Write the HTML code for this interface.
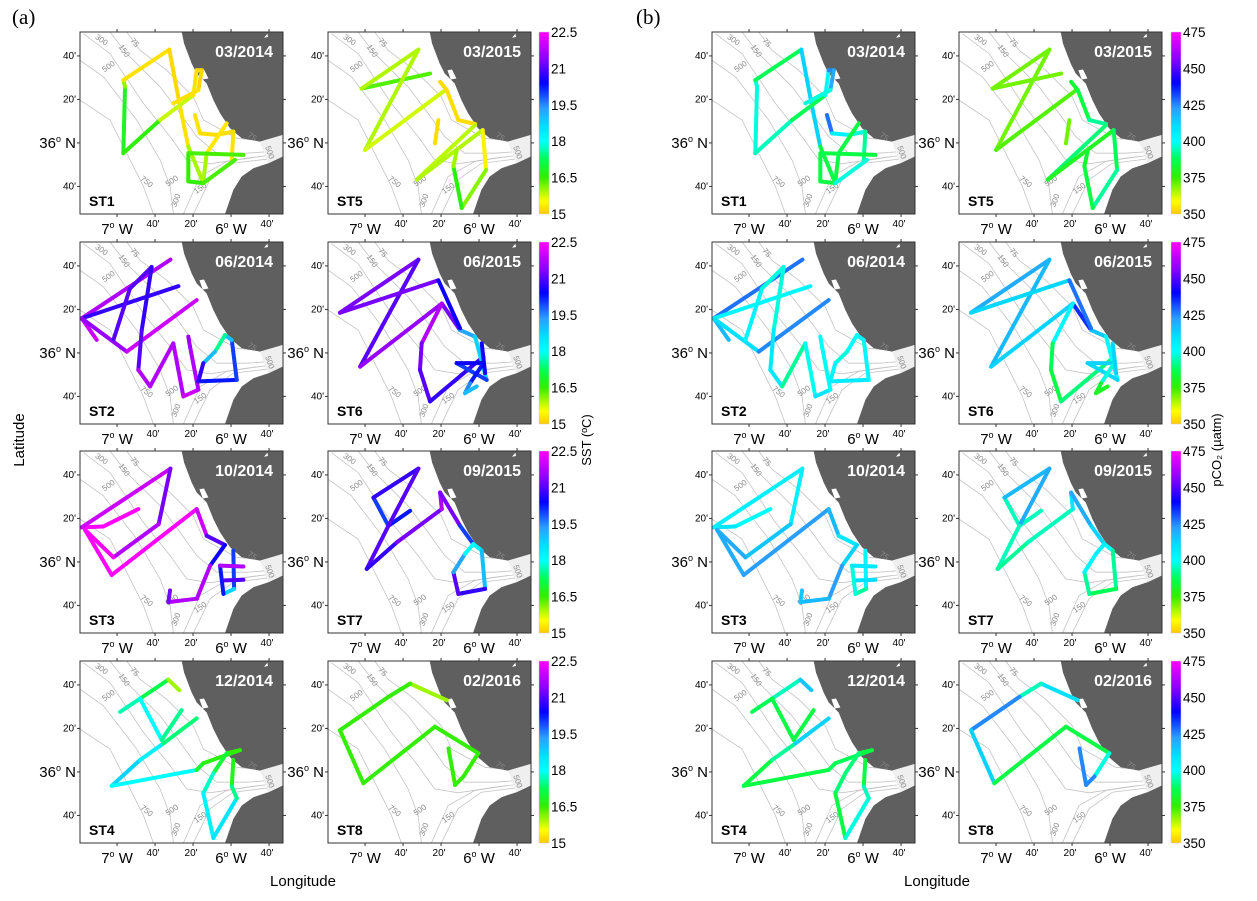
<!DOCTYPE html>
<html><head><meta charset="utf-8"><style>
html,body{margin:0;padding:0;background:#fff;}
svg{display:block;font-family:"Liberation Sans",Arial,sans-serif;}
</style></head><body>
<svg id="fig" width="1257" height="901" viewBox="0 0 1257 901" xmlns="http://www.w3.org/2000/svg">
<text x="12" y="24" font-family="Liberation Serif" font-size="21">(a)</text>
<text x="636" y="24" font-family="Liberation Serif" font-size="21">(b)</text>
<text transform="translate(24,440) rotate(-90)" text-anchor="middle" font-size="15">Latitude</text>
<text x="303" y="886" text-anchor="middle" font-size="15">Longitude</text>
<text x="937" y="886" text-anchor="middle" font-size="15">Longitude</text>
<text transform="translate(591,440) rotate(-90)" text-anchor="middle" font-size="13">SST (ºC)</text>
<text transform="translate(1221,450) rotate(-90)" text-anchor="middle" font-size="13">pCO₂ (µatm)</text>
<g id="panels"></g>
</svg>
<script>
// ---------- data (minutes east of 7°W, minutes north of 36°N) ----------
const stations = ["ST1","ST2","ST3","ST4","ST5","ST6","ST7","ST8"];
const dates = ["03/2014","06/2014","10/2014","12/2014","03/2015","06/2015","09/2015","02/2016"];
const lonTicks = [0,20,40,60,80];
const lonTickLabels = ["7","40'","20'","6","40'"];
const latTicks = [40,20,0,-20];
const latTickLabels = ["40'","20'","36","40'"];
const sstTicks = [22.5,21,19.5,18,16.5,15];
const pco2Ticks = [475,450,425,400,375,350];

const st1Pts = [
 [[3.3,-4.7],[4.2,25.8],[3.3,28.9],[27.5,42.9],[33.2,16.6],[37.5,-1.7],[45.4,-18.5]],
 [[3.3,-4.7],[22.6,10.5],[40.2,22],[41.9,33.4],[44.6,33.4],[42.8,24.3],[29.6,18.2]],
 [[41,12.8],[43.7,4.4],[52.5,3.7],[61.2,5.2],[60.4,-7.8]],
 [[57.7,9],[47.2,-4.7],[45.4,-17.7]],
 [[37.5,-4.7],[66.5,-5.5]],
 [[37.5,-5.5],[37.5,-17.7],[45.4,-18.5],[62.1,-7.8]]];
const st1Sst = [[16.8,16.8,15.3,15.2,15.1,15.4,16.5],[16.8,16.3,15.3,15.2,15.1,15.2,15.3],[15.3,15.2,15.2,15.2,15.3],[15.2,15.4,16.5],[16.5,16.3],[16.5,16.5,16.5,16.3]];
const st1Pco2 = [[390,405,390,385,440,385,385],[400,390,385,420,430,410,385],[445,410,400,395,390],[385,385,385],[385,385],[385,385,385,410]];

const st2Pts = [
 [[-18.6,15.9],[28.1,42.9]],
 [[-18.6,15.9],[32.3,30.7]],
 [[-18.6,15.9],[-10.7,6]],
 [[-18.6,15.9],[5.1,0.6],[41.9,24.3]],
 [[-1.9,6],[6.8,29.6],[18.2,39.5]],
 [[18.2,39.5],[13,10.5],[11.2,-7.8],[17.4,-15.4],[29.6,4.4],[34.9,-20],[42.8,-16.9],[38.4,2.9],[37.5,7.5]],
 [[42.8,-13.1],[63,-12.4],[60.4,5.9],[56.8,8.2],[51.6,0.6],[45.4,-4.7],[42.8,-13.1]]];
const st2Sst = [[21.5,22],[21,20.5],[22,22],[21.5,21.5,22.5],[21.5,20.5,21.5],[21,20.5,21.5,22,21.5,22,22,21.5,21.5],[21,19.5,20.5,17.5,17.5,20.5,21]];
const st2Pco2 = [[415,440],[415,390],[415,420],[410,410,440],[408,400,395],[400,395,420,395,390,408,408,395,405],[408,405,400,405,395,400,408]];

const st3Pts = [
 [[11.2,24.3],[-7.2,16.3],[-18.6,15.9],[28.1,42.9],[21.9,17.4],[-1.9,2.1],[-16.8,14.7],[-2.8,-6],[41.9,24.3],[47.2,12],[56.8,7.8]],
 [[56.8,7.8],[49,-1.7],[42,-16.9],[27,-18.5],[27.9,-13.1]],
 [[61.2,5.2],[61.6,-12.4],[56,-14.7],[54.2,-1.7],[66.5,-2.1]],
 [[56.8,-8.5],[66.5,-8.2]]];
const st3Sst = [[22.5,22.5,22.5,21.5,21,22.5,22.5,22.5,22.5,21.5,20.5],[20,21,22.5,21,21.5],[21,19,18.5,22,21.5],[21,21]];
const st3Pco2 = [[395,405,410,400,410,420,420,420,425,410,405],[405,420,425,410,420],[405,400,385,410,405],[410,410]];

const st4Pts = [
 [[1.6,27.6],[12.1,33.7],[27,42.4],[32.8,37.6]],
 [[12.1,33.7],[23.5,14.7],[34,28.4]],
 [[-2.8,-6.4],[12.1,5.5],[24.4,13.1],[41.9,24.6]],
 [[-2.8,-6.4],[41.9,0.9],[45.4,4],[64.7,10],[57.7,8.6],[50.7,-0.6],[45.4,-9.8],[50.7,-30.4],[63,-12.1]],
 [[61.2,5.5],[60.4,-6.7],[63,-12.1]]];
const st4Sst = [[17.5,17.8,16.5,15.5],[18,18,17],[19,18.5,18,16.8],[19,17,16.8,16.5,16.5,17.5,18,18.5,18.5],[16.5,17,18]];
const st4Pco2 = [[385,390,400,430],[385,385,385],[385,385,400,425],[385,385,390,385,385,395,385,385,410],[385,385,405]];

const st5Pts = [
 [[34.2,31.9],[-1.8,25],[28.1,42.9],[0,-3.2],[42.1,24.2]],
 [[39.5,28.1],[43,24.3],[49.1,10.5],[57.9,8.7]],
 [[38.6,10.5],[36.8,-0.2]],
 [[57.9,8.2],[27.2,-16.9],[61.9,5.9],[63.7,-12.4],[50.9,-29.9],[46.5,-10.7],[48.2,-3.8]]];
const st5Sst = [[16.5,16.2,15.6,16.2,15.3],[15.2,15.2,15.2,15.2],[15.2,15.2],[15.2,16.5,15.3,15.5,16.7,16.5,15.5]];
const st5Pco2 = [[365,375,365,375,370],[380,385,385,400],[375,365],[395,385,375,400,385,385,380]];

const st6Pts = [
 [[-13.2,18.5],[28.1,42.9],[-2.6,-6.3],[40.4,22.7],[50,10.5],[57.9,7.5]],
 [[-13.2,18.5],[38.6,33.4],[50,11.3]],
 [[40.4,22.7],[29.8,4.4],[28.9,-7.8],[34.2,-22.3],[62.3,-1.7]],
 [[57.9,7.5],[64,-12.4],[48.2,-4.7],[62.3,-4.7],[55.3,-13.9],[52.6,-18.5],[58.8,-15.4]],
 [[61.4,4.4],[63.2,-9.3]]];
const st6Sst = [[21.5,21,21,22,20.5,18],[22,20.5,20.5],[22,21.5,21,21,20.5],[18,19.5,20.5,20.5,20,19,19],[20.5,20.5]];
const st6Pco2 = [[400,440,395,430,440,390],[408,415,440],[415,390,385,385,395],[395,408,415,410,385,380,380],[415,410]];

const st7Pts = [
 [[23.7,23.5],[12.3,16.6],[4.4,29.6],[28.1,42.9],[12.3,16.6],[0.9,-3.2]],
 [[0.9,-3.2],[16.7,9],[40.4,24.3],[39.5,31.9],[50,16.6],[57,8.2],[61.4,5.2],[63.2,-12.4],[49.1,-14.7],[46.5,-4.7],[52.6,3.7],[57,8.2]]];
const st7Sst = [[20.5,20,20,21.5,20.5,21.5],[21,20.5,22,21.5,21,19,17.5,20.5,21,21,17.5,18.5]];
const st7Pco2 = [[395,395,395,440,400,390],[390,395,395,420,420,405,395,390,385,400,405,405]];

const st8Pts = [
 [[43,33],[23.7,40.6],[12.3,34.5],[-13.2,19.2],[-0.9,-5.2],[36.8,20.8],[59.6,8.6],[51.8,-2.1],[47.4,-6],[43.9,10.8]]];
const st8Sst = [[15.5,16.5,16.5,16.5,16.5,16.5,16.5,16.5,16.5,16.5]];
const st8Pco2 = [[440,380,410,440,385,385,385,410,440,410]];

const trackPts = [st1Pts,st2Pts,st3Pts,st4Pts,st5Pts,st6Pts,st7Pts,st8Pts];
const trackSst = [st1Sst,st2Sst,st3Sst,st4Sst,st5Sst,st6Sst,st7Sst,st8Sst];
const trackPco2 = [st1Pco2,st2Pco2,st3Pco2,st4Pco2,st5Pco2,st6Pco2,st7Pco2,st8Pco2];

const landZ = [[365,35],[372,70],[395,130],[410,160],[440,190],[460,240],[480,280],[510,325],[545,355],[600,365],[668,345],[668,35]];
const africaZ = [[668,410],[625,430],[580,445],[545,470],[520,510],[495,583],[668,583]];
const contoursZ = [
 [[200,35],[240,90],[320,150],[400,230],[430,300],[530,355],[600,362]],
 [[150,35],[200,100],[300,200],[360,280],[410,350],[470,400],[560,400],[668,392]],
 [[70,40],[150,100],[250,250],[330,350],[380,420],[450,432],[560,415],[668,402]],
 [[60,120],[130,170],[230,300],[300,420],[330,500],[340,583]],
 [[60,240],[150,300],[200,400],[250,500],[280,583]],
 [[400,583],[450,480],[520,430],[668,412]],
 [[370,583],[420,470],[500,425],[600,410]]];
const contourLabels = [["300",120,65,35],["75",218,72,50],["150",186,96,55],["500",150,145,-35],["750",255,492,40],["500",340,490,-35],["300",355,545,-70],["150",425,512,-35],["75",572,357,35],["500",622,400,70]];

const stops = [[0,"#ffc800"],[0.07,"#ffff00"],[0.2,"#33ee00"],[0.3,"#00ff55"],[0.4,"#00ffff"],[0.48,"#00e0ff"],[0.58,"#2a9fff"],[0.72,"#0000ff"],[0.85,"#8a00ff"],[1,"#ff00ff"]];
function hex(c){return [1,3,5].map(i=>parseInt(c.substr(i,2),16));}
function cmap(t){t=Math.max(0,Math.min(1,t));for(let i=1;i<stops.length;i++){if(t<=stops[i][0]){const a=stops[i-1],b=stops[i];const f=(t-a[0])/(b[0]-a[0]);const ca=hex(a[1]),cb=hex(b[1]);return "rgb("+ca.map((v,k)=>Math.round(v+(cb[k]-v)*f)).join(",")+")";}}return stops[stops.length-1][1];}

const NS="http://www.w3.org/2000/svg";
function mk(tag,attrs,parent){const e=document.createElementNS(NS,tag);for(const k in attrs)e.setAttribute(k,attrs[k]);parent.appendChild(e);return e;}
const W=203,H=182;
function zToM(p){return [(p[0]-171)/5.7,(369-p[1])/6.55];}
const root=document.getElementById("panels");
const cols=[[80,328,539,"sst"],[712,959,1171,"pco2"]];
const rows=[32,242,451,661];

cols.forEach((c,ci)=>{
 rows.forEach((py,ri)=>{
  const cb=mk("g",{},root);
  
  
  const gid="grad"+ci+ri;
  const defs=mk("defs",{},cb);const lg=mk("linearGradient",{id:gid,x1:0,y1:1,x2:0,y2:0},defs);
  stops.forEach(s=>mk("stop",{offset:s[0],"stop-color":s[1]},lg));
  mk("rect",{x:c[2],y:py,width:10,height:H,fill:"url(#"+gid+")",stroke:"#ccc","stroke-width":0.5},cb);
  const ticks=c[3]==="sst"?sstTicks:pco2Ticks;
  ticks.forEach((v,i)=>{const t=mk("text",{x:c[2]+12,y:py+i*H/5+5,"font-size":13.5},cb);t.textContent=String(v);
   
   });
  [0,1].forEach(k=>{
   const px=c[k];const si=k*4+ri;
   const X=m=>px+(m+19.5)*1.9, Y=n=>py+(51-n)*2.175;
   const g=mk("g",{},root);
   
   
   const cid="clip"+ci+ri+k;
   const cd=mk("defs",{},g);const cp=mk("clipPath",{id:cid},cd);mk("rect",{x:px,y:py,width:W,height:H},cp);
   const inner=mk("g",{"clip-path":"url(#"+cid+")"},g);
   mk("rect",{x:px,y:py,width:W,height:H,fill:"#fff"},inner);
   const toPts=arr=>arr.map(p=>{const q=zToM(p);return X(q[0]).toFixed(1)+","+Y(q[1]).toFixed(1);}).join(" ");
   contoursZ.forEach(cz=>{const l=mk("polyline",{points:toPts(cz),fill:"none",stroke:"#c4c4c4","stroke-width":0.8},inner);
    
    });
   const land=mk("polygon",{points:toPts(landZ),fill:"#5f5f5f"},inner);
   
   
   const af=mk("polygon",{points:toPts(africaZ),fill:"#5f5f5f"},inner);
   
   
   mk("polygon",{points:toPts([[600,365],[668,345],[668,410],[625,430]]),fill:"#efefef"},inner);
   mk("polygon",{points:toPts([[612,52],[622,40],[624,50]]),fill:"#fff"},inner);
   mk("polygon",{points:toPts([[418,150],[432,148],[445,175],[428,178]]),fill:"#fff"},inner);
   contourLabels.forEach(cl=>{const q=zToM([cl[1],cl[2]]);const t=mk("text",{x:X(q[0]),y:Y(q[1]),"font-size":8,fill:"#8a8a8a","text-anchor":"middle",transform:"rotate("+cl[3]+" "+X(q[0])+" "+Y(q[1])+")"},inner);t.textContent=cl[0];
    
    });
   const pts=trackPts[si],vals=(c[3]==="sst"?trackSst:trackPco2)[si];
   const norm=c[3]==="sst"?(v=>(v-15)/7.5):(v=>(v-350)/125);
   pts.forEach((seg,sj)=>{for(let i=0;i<seg.length-1;i++){
    const v=(vals[sj][i]+vals[sj][i+1])/2;
    const ln=mk("line",{x1:X(seg[i][0]),y1:Y(seg[i][1]),x2:X(seg[i+1][0]),y2:Y(seg[i+1][1]),stroke:cmap(norm(v)),"stroke-width":4,"stroke-linecap":"round"},inner);
    
    
   }});
   const dt=mk("text",{x:px+W-10,y:py+25,"font-size":16,"font-weight":"bold",fill:"#fff","text-anchor":"end"},g);dt.textContent=dates[si];
   
   
   const st=mk("text",{x:px+9,y:py+H-8,"font-size":14,"font-weight":"bold",fill:"#000"},g);st.textContent=stations[si];
   
   
   mk("rect",{x:px,y:py,width:W,height:H,fill:"none",stroke:"#333","stroke-width":1},g);
   lonTicks.forEach((m,i)=>{
    mk("line",{x1:X(m),y1:py,x2:X(m),y2:py-3,stroke:"#333"},g);
    mk("line",{x1:X(m),y1:py+H,x2:X(m),y2:py+H+3,stroke:"#333"},g);
    const big=(i===0||i===3);
    const t=mk("text",{x:X(m)+(big?0:-2),y:py+H+(big?20:13),"font-size":big?15:10,"text-anchor":"middle"},g);
    
    
    if(big){t.textContent=lonTickLabels[i];const s=mk("tspan",{"font-size":9,dy:-6},t);s.textContent="o";const s2=mk("tspan",{dy:6},t);s2.textContent=" W";}
    else t.textContent=lonTickLabels[i];
   });
   latTicks.forEach((n,i)=>{
    mk("line",{x1:px,y1:Y(n),x2:px-3,y2:Y(n),stroke:"#333"},g);
    mk("line",{x1:px+W,y1:Y(n),x2:px+W+3,y2:Y(n),stroke:"#333"},g);
    const big=(n===0);
    const t=mk("text",{x:px-4,y:Y(n)+(big?5:3),"font-size":big?15:10,"text-anchor":"end"},g);
    
    
    if(big){t.textContent=latTickLabels[i];const s=mk("tspan",{"font-size":9,dy:-6},t);s.textContent="o";const s2=mk("tspan",{dy:6},t);s2.textContent=" N";}
    else t.textContent=latTickLabels[i];
   });
  });
 });
});
</script>
</body></html>
